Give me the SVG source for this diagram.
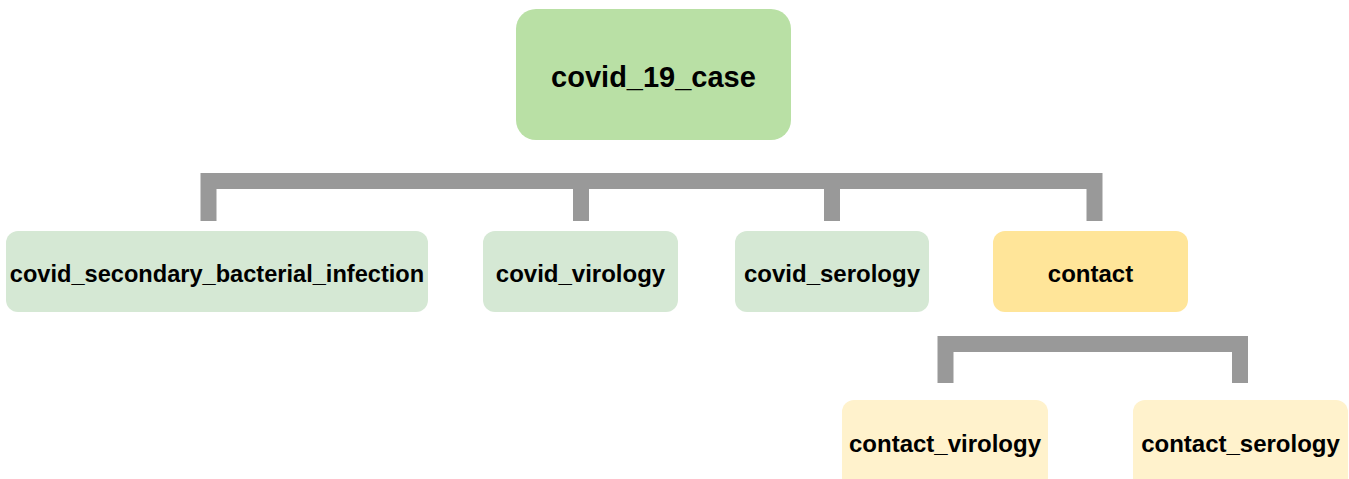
<svg xmlns="http://www.w3.org/2000/svg" width="1349" height="479" viewBox="0 0 1349 479">
<style>
text{font-family:"Liberation Sans",Arial,sans-serif;font-weight:bold;fill:#000;text-anchor:middle}
.conn{fill:none;stroke:#999999;stroke-width:16;stroke-linecap:butt;stroke-linejoin:miter}
.g1{fill:#b9e0a5}
.g2{fill:#d5e8d4}
.y1{fill:#ffe599}
.y2{fill:#fff2cc}
.l2{font-size:24px}
</style>
<rect width="1349" height="479" fill="#ffffff"/>
<g id="connectors">
<path class="conn" d="M208.5 221V181H1094.5V221"/>
<path class="conn" d="M581 181V221"/>
<path class="conn" d="M832 181V221"/>
<path class="conn" d="M945.5 383V344H1240V383"/>
</g>
<g id="covid_19_case">
<rect class="g1" x="516" y="9" width="275" height="131" rx="20"/>
<text x="653.5" y="87" font-size="29">covid_19_case</text>
</g>
<g id="covid_secondary_bacterial_infection">
<rect class="g2" x="6" y="231" width="422" height="81" rx="12"/>
<text class="l2" x="217" y="282" style="font-size:23.6px">covid_secondary_bacterial_infection</text>
</g>
<g id="covid_virology">
<rect class="g2" x="483" y="231" width="195" height="81" rx="12"/>
<text class="l2" x="580.5" y="282">covid_virology</text>
</g>
<g id="covid_serology">
<rect class="g2" x="735" y="231" width="194" height="81" rx="12"/>
<text class="l2" x="832" y="282">covid_serology</text>
</g>
<g id="contact">
<rect class="y1" x="993" y="231" width="195" height="81" rx="12"/>
<text class="l2" x="1090.5" y="282">contact</text>
</g>
<g id="contact_virology">
<rect class="y2" x="842" y="400" width="206" height="90" rx="12"/>
<text class="l2" x="945" y="452">contact_virology</text>
</g>
<g id="contact_serology">
<rect class="y2" x="1133" y="400" width="215" height="90" rx="12"/>
<text class="l2" x="1240.5" y="452">contact_serology</text>
</g>
</svg>
